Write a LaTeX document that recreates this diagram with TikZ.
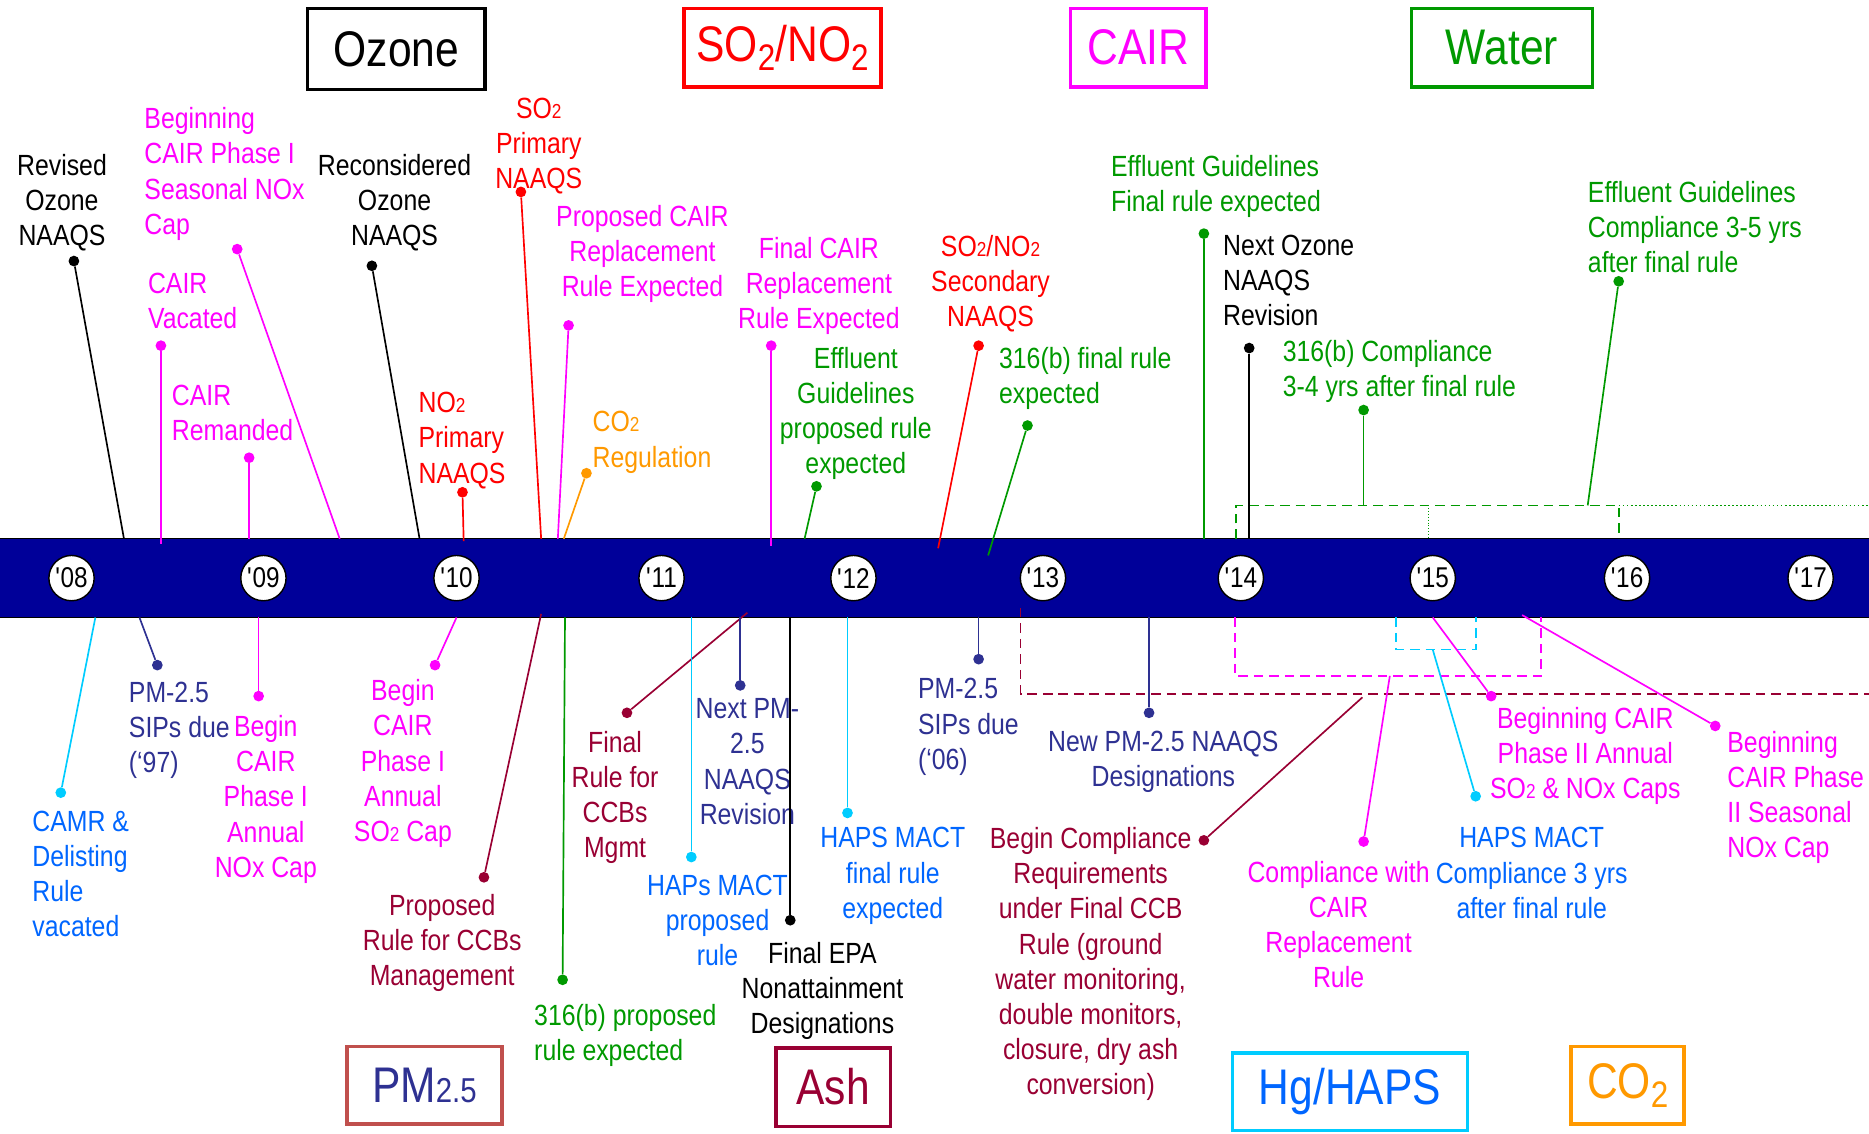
\documentclass[tikz,border=0pt]{standalone}
\usepackage{fontspec}
\setmainfont{Liberation Sans}[FakeStretch=0.85]
\usetikzlibrary{backgrounds}
\definecolor{bar1}{RGB}{0,0,153}
\definecolor{mg}{RGB}{255,0,255}
\definecolor{rd}{RGB}{255,0,0}
\definecolor{gn}{RGB}{0,153,0}
\definecolor{og}{RGB}{255,153,0}
\definecolor{pm}{RGB}{46,49,146}
\definecolor{pmbox}{RGB}{192,80,77}
\definecolor{ash}{RGB}{153,0,51}
\definecolor{hgl}{RGB}{0,204,255}
\definecolor{hgt}{RGB}{0,102,255}
\newcommand\lsub[1]{{\fontsize{17}{17}\selectfont #1}}
\newcommand\tsub[1]{\raisebox{-0.35ex}{\fontsize{31}{31}\selectfont #1}}

\begin{document}
\begin{tikzpicture}[
    x=1pt, y=-1pt,
    font=\fontsize{24.5}{29.5}\selectfont,
    l/.style={line width=1.4pt},
    dsh/.style={dash pattern=on 8pt off 5pt},
    dot/.style={circle, fill, inner sep=0pt, minimum size=9pt},
    t/.style={inner sep=0pt, anchor=north, align=center},
    tl/.style={inner sep=0pt, anchor=north west, align=left},
    cat/.style={draw, line width=3pt, inner sep=0pt,
        font=\fontsize{42}{42}\selectfont},
    yr/.style={circle, draw=black, fill=white, line width=1.2pt,
        minimum size=38pt, inner sep=0pt, font=\fontsize{24}{24}\selectfont}
]
    \useasboundingbox (0,0) rectangle (1568,951);

    % category boxes
    \node [cat, black, minimum width=149pt, minimum height=68pt] (ozone) at (332.5,41) {Ozone};
    \node [cat, rd, minimum width=165pt, minimum height=66pt] (sono) at (656.5,40) {SO\tsub{2}/NO\tsub{2}};
    \node [cat, mg, minimum width=114pt, minimum height=66pt] (cair) at (955,40) {CAIR};
    \node [cat, gn, minimum width=152pt, minimum height=66pt] (water) at (1260,40) {Water};
    \node [cat, draw=pmbox, text=pm, minimum width=130pt, minimum height=65pt] (pmbx) at (356,910.5) {PM{\fontsize{29}{29}\selectfont 2.5}};
    \node [cat, ash, minimum width=96pt, minimum height=66pt] (ashbx) at (699,912) {Ash};
    \node [cat, draw=hgl, text=hgt, minimum width=197pt, minimum height=65pt] (hgbx) at (1132.5,916) {Hg/HAPS};
    \node [cat, og, minimum width=95pt, minimum height=65pt] (cobx) at (1365.5,910.5) {CO\tsub{2}};

    % dashed brackets
    \draw [l, gn, dsh] (1037,452) -- (1037,424) -- (1358,424) -- (1358,452);
    \draw [l, gn, dotted] (1358,424) -- (1568,424);
    \draw [gn, dotted] (1198,424) -- (1198,452);
    \draw [l, ash, dsh] (856,510) -- (856,582) -- (1568,582);
    \draw [l, mg, dsh] (1036,518) -- (1036,567) -- (1293,567) -- (1293,518);
    \draw [l, hgl, dsh] (1171,518) -- (1171,545) -- (1238,545) -- (1238,518);

    % labels above the bar
    \node [t, black] (revOz) at (52,129) {Revised\\Ozone\\NAAQS};
    \node [tl, mg] (begSeas) at (121,90) {Beginning\\CAIR Phase I\\Seasonal NOx\\Cap};
    \node [tl, mg] (cairVac) at (124,229) {CAIR\\Vacated};
    \node [tl, mg] (cairRem) at (144,323) {CAIR\\Remanded};
    \node [t, black] (reconOz) at (331,129) {Reconsidered\\Ozone\\NAAQS};
    \node [tl, rd] (noPrim) at (351,329) {NO\lsub{2}\\Primary\\NAAQS};
    \node [t, rd] (soPrim) at (452,82) {SO\lsub{2}\\Primary\\NAAQS};
    \node [t, mg] (propCair) at (539,172) {Proposed CAIR\\Replacement\\Rule Expected};
    \node [tl, og] (coReg) at (497,345) {CO\lsub{2}\\Regulation};
    \node [t, mg] (finCair) at (687,199) {Final CAIR\\Replacement\\Rule Expected};
    \node [t, gn] (effProp) at (718,291) {Effluent\\Guidelines\\proposed rule\\expected};
    \node [t, rd] (soSec) at (831,197) {SO\lsub{2}/NO\lsub{2}\\Secondary\\NAAQS};
    \node [tl, gn] (finB) at (838,291) {316(b) final rule\\expected};
    \node [tl, gn] (effFin) at (932,130) {Effluent Guidelines\\Final rule expected};
    \node [tl, black] (nextOz) at (1026,197) {Next Ozone\\NAAQS\\Revision};
    \node [tl, gn] (compB) at (1076,285) {316(b) Compliance\\3-4 yrs after final rule};
    \node [tl, gn] (effComp) at (1332,152) {Effluent Guidelines\\Compliance 3-5 yrs\\after final rule};

    % labels below the bar
    \node [tl, hgt] (camr) at (27,680) {CAMR \&\\Delisting\\Rule\\vacated};
    \node [tl, pm] (sip97) at (108,572) {PM-2.5\\SIPs due\\(‘97)};
    \node [t, mg] (begNOx) at (223,600) {Begin\\CAIR\\Phase I\\Annual\\NOx Cap};
    \node [t, mg] (begSO) at (338,570) {Begin\\CAIR\\Phase I\\Annual\\SO\lsub{2} Cap};
    \node [t, ash] (propCCB) at (371,750) {Proposed\\Rule for CCBs\\Management};
    \node [tl, gn] (propB) at (448,842) {316(b) proposed\\rule expected};
    \node [t, ash] (finCCB) at (516,613) {Final\\Rule for\\CCBs\\Mgmt};
    \node [t, hgt] (hapsProp) at (602,734) {HAPs MACT\\proposed\\rule};
    \node [t, pm] (nextPM) at (627,586) {Next PM-\\2.5\\NAAQS\\Revision};
    \node [t, black] (finEPA) at (690,790) {Final EPA\\Nonattainment\\Designations};
    \node [t, hgt] (hapsFin) at (749,694) {HAPS MACT\\final rule\\expected};
    \node [tl, pm] (sip06) at (770,569) {PM-2.5\\SIPs due\\(‘06)};
    \node [t, pm] (newPM) at (976,613) {New PM-2.5 NAAQS\\Designations};
    \node [t, ash] (begComp) at (915,694) {Begin Compliance\\Requirements\\under Final CCB\\Rule (ground\\water monitoring,\\double monitors,\\closure, dry ash\\conversion)};
    \node [t, mg] (compCair) at (1123,722) {Compliance with\\CAIR\\Replacement\\Rule};
    \node [t, hgt] (hapsComp) at (1285,694) {HAPS MACT\\Compliance 3 yrs\\after final rule};
    \node [t, mg] (begPh2) at (1330,593) {Beginning CAIR\\Phase II Annual\\SO\lsub{2} \& NOx Caps};
    \node [tl, mg] (begSeas2) at (1449,613) {Beginning\\CAIR Phase\\II Seasonal\\NOx Cap};

    % dots
    \node [dot, black] (revOzD) at (62,219) {};
    \node [dot, mg] (begSeasD) at (199,209) {};
    \node [dot, mg] (cairVacD) at (135,290) {};
    \node [dot, mg] (cairRemD) at (209,384) {};
    \node [dot, black] (reconOzD) at (312,223) {};
    \node [dot, rd] (noPrimD) at (388,413) {};
    \node [dot, rd] (soPrimD) at (437,161) {};
    \node [dot, mg] (propCairD) at (477,273) {};
    \node [dot, og] (coRegD) at (492,397) {};
    \node [dot, mg] (finCairD) at (647,290) {};
    \node [dot, gn] (effPropD) at (685,408) {};
    \node [dot, rd] (soSecD) at (821,290) {};
    \node [dot, gn] (finBD) at (862,357) {};
    \node [dot, gn] (effFinD) at (1010,196) {};
    \node [dot, black] (nextOzD) at (1048,292) {};
    \node [dot, gn] (compBD) at (1144,344) {};
    \node [dot, gn] (effCompD) at (1358,236) {};
    \node [dot, hgl] (camrD) at (51,665) {};
    \node [dot, pm] (sip97D) at (132,558) {};
    \node [dot, mg] (begNOxD) at (217,584) {};
    \node [dot, mg] (begSOD) at (365,558) {};
    \node [dot, ash] (propCCBD) at (406,736) {};
    \node [dot, gn] (propBD) at (472,822) {};
    \node [dot, ash] (finCCBD) at (526,598) {};
    \node [dot, hgl] (hapsPropD) at (580,719) {};
    \node [dot, pm] (nextPMD) at (621,575) {};
    \node [dot, black] (finEPAD) at (663,772) {};
    \node [dot, hgl] (hapsFinD) at (711,682) {};
    \node [dot, pm] (sip06D) at (821,553) {};
    \node [dot, pm] (newPMD) at (964,598) {};
    \node [dot, ash] (begCompD) at (1010,705) {};
    \node [dot, mg] (compCairD) at (1144,706) {};
    \node [dot, hgl] (hapsCompD) at (1238,668) {};
    \node [dot, mg] (begPh2D) at (1251,584) {};
    \node [dot, mg] (begSeas2D) at (1439,609) {};

    % free ends on the bar
    \coordinate (revOzE) at (104,452);
    \coordinate (begSeasE) at (285,452);
    \coordinate (cairVacE) at (135,456);
    \coordinate (cairRemE) at (209,452);
    \coordinate (reconOzE) at (352,452);
    \coordinate (noPrimE) at (389,454);
    \coordinate (soPrimE) at (454,452);
    \coordinate (propCairE) at (468,452);
    \coordinate (coRegE) at (473,452);
    \coordinate (finCairE) at (647,458);
    \coordinate (effPropE) at (675,452);
    \coordinate (soSecE) at (787,460);
    \coordinate (finBE) at (829,466);
    \coordinate (effFinE) at (1010,452);
    \coordinate (nextOzE) at (1048,452);
    \coordinate (compBE) at (1144,424);
    \coordinate (effCompE) at (1332,424);
    \coordinate (camrE) at (80,518);
    \coordinate (sip97E) at (117,518);
    \coordinate (begNOxE) at (217,518);
    \coordinate (begSOE) at (383,518);
    \coordinate (propCCBE) at (454,515);
    \coordinate (propBE) at (474,518);
    \coordinate (finCCBE) at (627,514);
    \coordinate (hapsPropE) at (580,518);
    \coordinate (nextPME) at (621,518);
    \coordinate (finEPAE) at (663,518);
    \coordinate (hapsFinE) at (711,518);
    \coordinate (sip06E) at (821,518);
    \coordinate (newPME) at (964,518);
    \coordinate (begCompE) at (1143,585);
    \coordinate (compCairE) at (1166,567);
    \coordinate (hapsCompE) at (1202,545);
    \coordinate (begPh2E) at (1202,518);
    \coordinate (begSeas2E) at (1277,516);

    % connectors
    \foreach \n/\c in {revOz/black, begSeas/mg, cairVac/mg, cairRem/mg,
        reconOz/black, noPrim/rd, soPrim/rd, propCair/mg, coReg/og,
        finCair/mg, effProp/gn, soSec/rd, finB/gn, effFin/gn, nextOz/black,
        compB/gn, effComp/gn, camr/hgl, sip97/pm, begNOx/mg, begSO/mg,
        propCCB/ash, propB/gn, finCCB/ash, hapsProp/hgl, nextPM/pm,
        finEPA/black, hapsFin/hgl, sip06/pm, newPM/pm, begComp/ash,
        compCair/mg, hapsComp/hgl, begPh2/mg, begSeas2/mg}
        \draw (\n D) edge [l, \c] (\n E);

    % time line
    \begin{scope}[on background layer]
        \node [fill=bar1, draw=black, line width=1pt, minimum width=1572pt,
            minimum height=66pt, inner sep=0pt] (bar) at (784,485) {};
    \end{scope}
    \foreach \y/\x in {08/60, 09/221, 10/383, 11/555, 12/716,
        13/875, 14/1041, 15/1202, 16/1365, 17/1519}
        \node [yr] (y\y) at (\x,485) {\textquotesingle\y};

\end{tikzpicture}
\end{document}
